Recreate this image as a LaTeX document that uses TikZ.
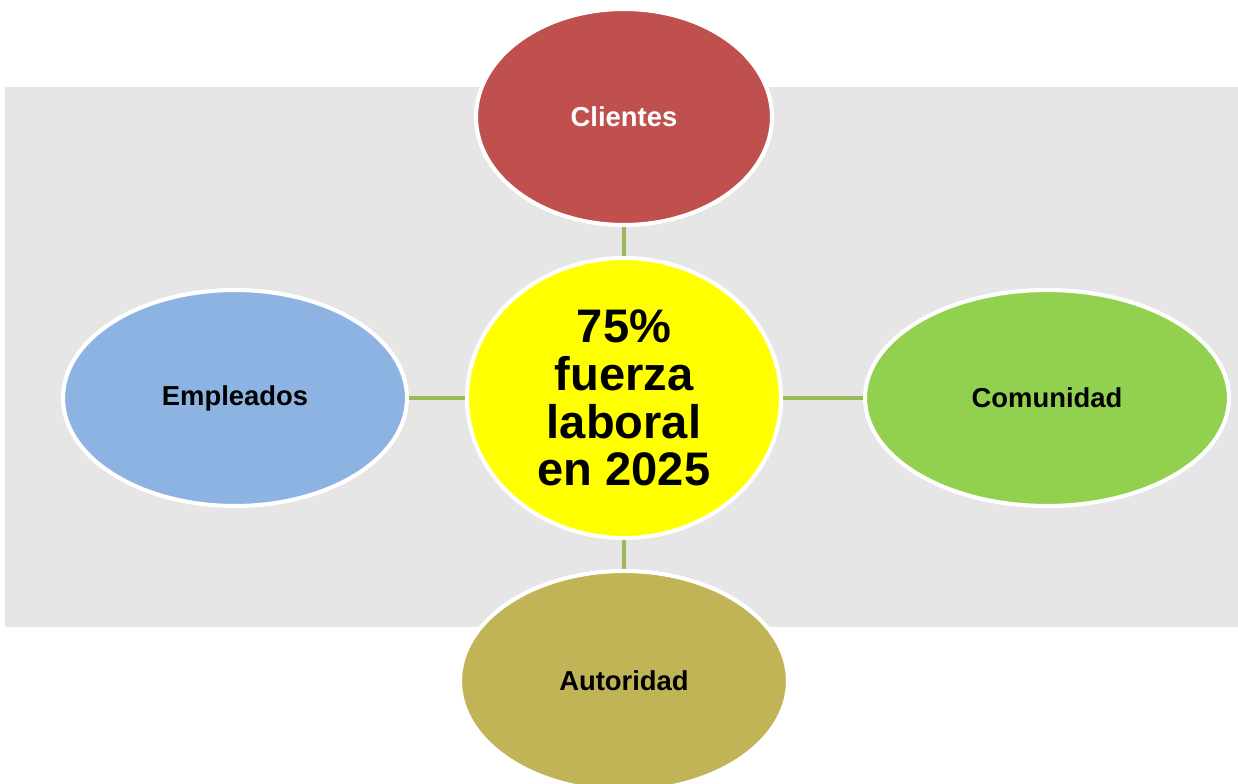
\documentclass[tikz,border=0pt]{standalone}
\usepackage{fontspec}
\setmainfont{Liberation Sans}
\usepackage{xcolor}
\usepackage{tikz}
\usetikzlibrary{positioning, shapes.geometric, backgrounds}

\definecolor{bggray}{HTML}{E6E6E6}
\definecolor{linkgreen}{HTML}{9BBB59}
\definecolor{clientred}{HTML}{C0504D}
\definecolor{empblue}{HTML}{8DB3E2}
\definecolor{comgreen}{HTML}{92D050}
\definecolor{autolive}{HTML}{C0B456}
\definecolor{ctryellow}{HTML}{FFFF00}

\begin{document}
\begin{tikzpicture}[x=0.02cm, y=-0.02cm, font=\bfseries,
bubble/.style={draw=white, ellipse, line width=2.3pt, inner sep=0pt, align=center, font=\fontsize{15.6}{18}\selectfont\bfseries},
link/.style={draw=linkgreen, line width=2.5pt}
]
    \useasboundingbox (0, 0) rectangle (1238, 784);
    \clip (0, 0) rectangle (1238, 784);

    % Background panel
    \fill [bggray] (5, 87) rectangle (1238, 627);

    % Bubbles
    \node (ctr) at (624, 398) [bubble, fill=ctryellow, minimum width=6.28cm, minimum height=5.6cm,
        font=\fontsize{26.8}{27.2}\selectfont\bfseries] {75\%\\fuerza\\laboral\\en 2025};
    \node (cli) at (624, 117) [bubble, fill=clientred, text=white, minimum width=5.92cm, minimum height=4.32cm] {Clientes};
    \node (emp) at (235, 398) [bubble, fill=empblue, minimum width=6.88cm, minimum height=4.32cm] {Empleados};
    \node (com) at (1047, 398) [bubble, fill=comgreen, minimum width=7.28cm, minimum height=4.32cm] {Comunidad};
    \node (aut) at (624, 681) [bubble, fill=autolive, minimum width=6.56cm, minimum height=4.4cm] {Autoridad};

    % Links
    \draw [link] (cli) -- (ctr);
    \draw [link] (emp) -- (ctr);
    \draw [link] (com) -- (ctr);
    \draw [link] (aut) -- (ctr);
\end{tikzpicture}
\end{document}
